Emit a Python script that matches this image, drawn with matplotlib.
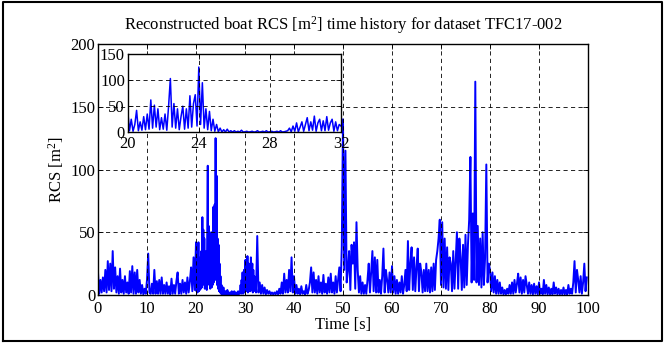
import numpy as np
import matplotlib
matplotlib.use('Agg')
import matplotlib.pyplot as plt
from matplotlib.lines import Line2D

# ---- data (RCS in m^2) ----
step_a = 0.25   # s, 0-20 s
rcs_0_20 = [
    18, 1, 12, 2, 14, 3, 20, 2, 27, 4, 25, 3, 35, 5, 22, 2, 15, 1, 21, 2,
    12, 1, 15, 2, 10, 1, 19, 2, 23, 1, 18, 1, 20, 2, 12, 1, 8, 0.5, 5, 1,
    12, 33, 2, 1, 9, 1, 20, 1, 11, 1, 12, 1, 14, 1, 8, 1, 10, 1, 7, 0.5,
    13, 1, 8, 1, 11, 18, 1, 9, 1, 12, 2, 10, 1, 14, 2, 11, 22, 3, 30, 4,
]
step_b = 0.1    # s, 20-32 s
rcs_20_32 = [
    42, 3, 25, 2, 15, 42, 3, 20, 4, 30,
    5, 35, 6, 62, 8, 52, 10, 45, 5, 28,
    6, 35, 4, 50, 103, 10, 55, 8, 45, 5,
    30, 50, 6, 45, 8, 70, 10, 55, 72, 12,
    125, 15, 95, 8, 45, 5, 40, 3, 25, 2,
    15, 1, 8, 0.5, 5, 0.5, 6, 0.5, 3, 0.5,
    3, 0.5, 2, 0.5, 4, 0.5, 1, 2, 0.5, 1,
    2, 0.5, 1, 3, 0.5, 1, 2, 0.5, 3, 0.5,
    1, 2, 0.5, 1, 2, 0.5, 3, 0.5, 1, 2,
    3, 8, 1, 12, 2, 18, 1, 10, 20, 2,
    15, 28, 3, 20, 4, 31, 2, 18, 25, 3,
    22, 3, 30, 4, 18, 25, 2, 20, 3, 15,
]
step_c = 0.25   # s, 32-100 s
rcs_32_100 = [
    12, 2, 47, 2, 10, 1, 8, 1, 6, 0.5, 4, 1, 3, 0.5, 2, 0.5, 2, 0.5, 3, 0.5,
    5, 1, 10, 1, 17, 2, 12, 2, 20, 3, 30, 2, 15, 1, 8, 1, 5, 0.5, 7, 1,
    3, 0.5, 8, 1, 4, 10, 22, 2, 18, 2, 12, 1, 15, 2, 10, 1, 16, 2, 9, 1,
    14, 2, 17, 2, 10, 1, 15, 2, 12, 22, 3, 38, 140, 20, 115, 10, 20, 35, 4, 40,
    25, 42, 5, 58, 20, 2, 15, 1, 10, 1, 8, 1, 12, 25, 2, 18, 35, 3, 30, 2,
    28, 2, 12, 1, 15, 37, 2, 20, 12, 2, 18, 2, 23, 2, 15, 1, 12, 1, 10, 2,
    15, 1, 8, 20, 3, 43, 4, 25, 38, 4, 30, 3, 22, 37, 3, 25, 18, 2, 20, 3,
    25, 3, 20, 2, 22, 3, 25, 4, 28, 35, 45, 60, 8, 58, 6, 45, 5, 38, 4, 30,
    25, 3, 35, 5, 28, 50, 5, 45, 30, 4, 40, 6, 48, 8, 40, 60, 110, 10, 65, 12,
    170, 10, 55, 8, 45, 6, 50, 8, 30, 104, 10, 25, 20, 3, 18, 2, 15, 1, 12, 1,
    10, 1, 6, 0.5, 4, 0.5, 5, 1, 8, 1, 10, 1, 12, 2, 9, 17, 2, 14, 1, 12,
    2, 15, 8, 1, 10, 1, 8, 0.5, 9, 1, 7, 0.5, 10, 1, 5, 0.5, 12, 1, 8, 0.5,
    6, 0.5, 5, 0.5, 10, 1, 6, 0.5, 5, 0.5, 4, 0.5, 6, 0.5, 4, 0.5, 8, 1, 5, 1,
    10, 27, 2, 20, 12, 2, 15, 1, 10, 25, 3, 14,
]
main_xticks = [0, 10, 20, 30, 40, 50, 60, 70, 80, 90, 100]
main_yticks = [0, 50, 100, 150, 200]
inset_xticks = [20, 24, 28, 32]
inset_yticks = [0, 50, 100, 150]

t = np.concatenate([
    0 + step_a * np.arange(len(rcs_0_20)),
    20 + step_b * np.arange(len(rcs_20_32)),
    32 + step_c * np.arange(len(rcs_32_100)),
])
rcs = np.concatenate([rcs_0_20, rcs_20_32, rcs_32_100]).astype(float)

plt.rcParams['font.family'] = ['Liberation Serif', 'DejaVu Serif']
plt.rcParams['mathtext.fontset'] = 'custom'
plt.rcParams['mathtext.rm'] = 'Liberation Serif'
plt.rcParams['mathtext.it'] = 'Liberation Serif:italic'

W, H = 665, 347
fig = plt.figure(figsize=(W / 100, H / 100), dpi=100)
fs = 12

def style(ax, xpad):
    ax.tick_params(direction='in', length=3.5, width=0.6, top=True, right=True,
                   labelsize=fs, colors='black')
    ax.tick_params(axis='x', pad=xpad)
    ax.tick_params(axis='y', pad=2)
    ax.grid(True, color='black', linestyle=(0, (5, 4)), linewidth=0.6)
    ax.set_axisbelow(False)
    for s in ax.spines.values():
        s.set_linewidth(1.0)

ax = fig.add_axes([98 / W, 1 - 295 / H, 490 / W, 251 / H])
ax.plot(t, rcs, color='#0000ff', linewidth=1.4)
ax.set_xlim(0, 100)
ax.set_ylim(0, 200)
ax.set_xticks(main_xticks)
ax.set_yticks(main_yticks)
style(ax, 4)
ax.set_xlabel('Time [s]', fontsize=fs, labelpad=0)
ax.set_ylabel(r'RCS [m$^2$]', fontsize=fs, labelpad=3)

axi = fig.add_axes([127.7 / W, 1 - 132.3 / H, 213.3 / W, 78.3 / H])
axi.set_facecolor('white')
axi.plot(t, rcs, color='#0000ff', linewidth=1.1)
axi.set_xlim(20, 32)
axi.set_ylim(0, 150)
axi.set_xticks(inset_xticks)
axi.set_yticks(inset_yticks)
style(axi, 3)

fig.text(0.5 * (98 + 588) / W, 1 - 25 / H,
         r'Reconstructed boat RCS [m$^2$] time history for dataset TFC17-002',
         ha='center', va='center', fontsize=fs)

# outer frame
x0, x1 = 3 / W, 662 / W
y0, y1 = 1 - 341 / H, 1 - 1.5 / H
fig.add_artist(Line2D([x0, x1, x1, x0, x0], [y0, y0, y1, y1, y0],
                      transform=fig.transFigure, color='black', linewidth=1.5))

fig.savefig('out.png', dpi=100)
